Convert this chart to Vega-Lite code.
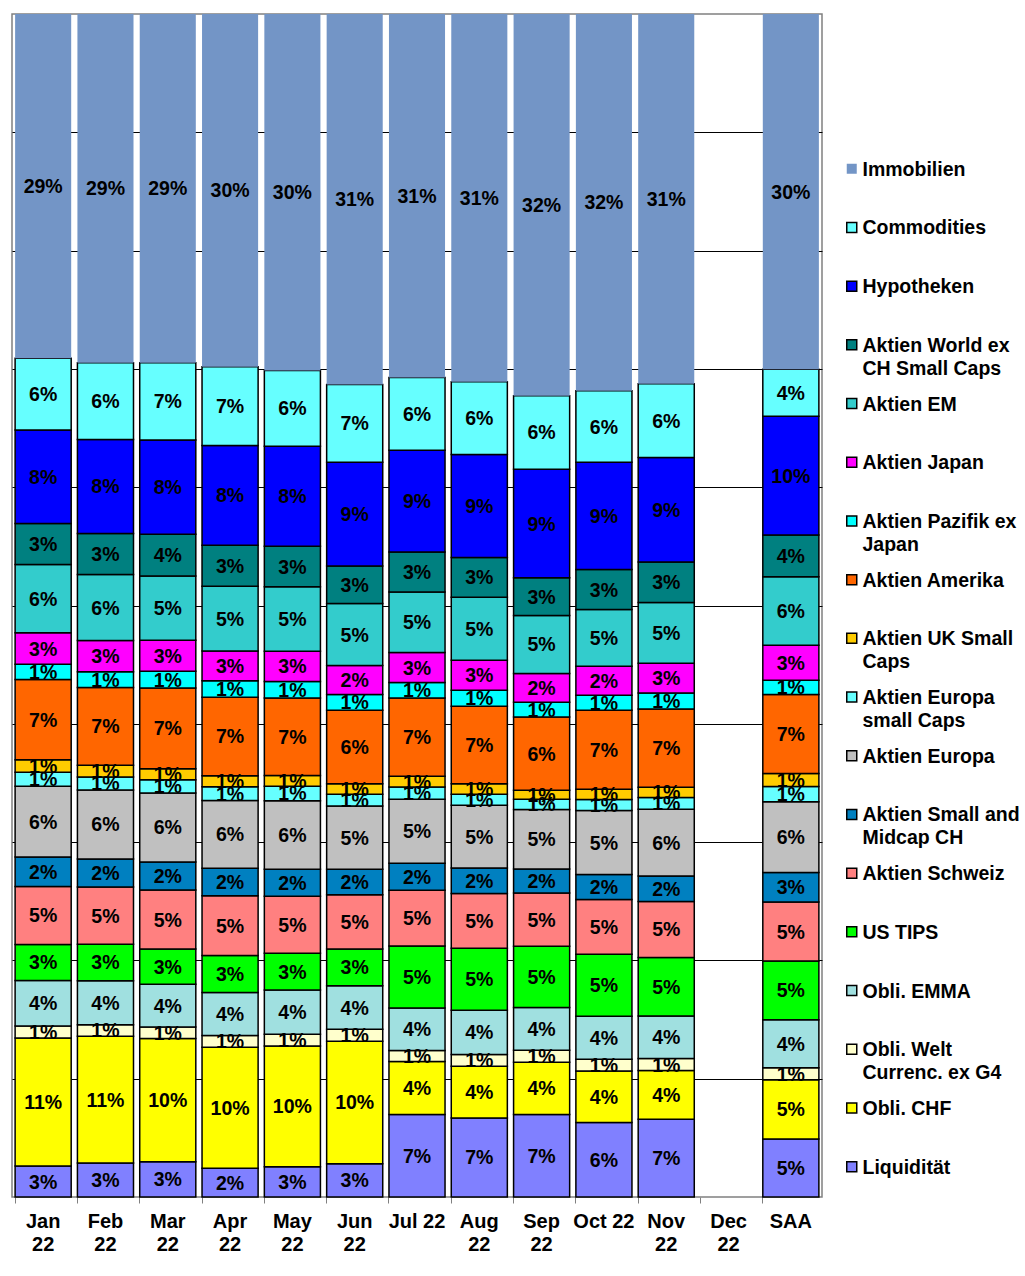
{
  "$schema": "https://vega.github.io/schema/vega-lite/v6.json",
  "width": 810,
  "height": 1183,
  "autosize": {"type": "none"},
  "padding": {"left": 12, "top": 14, "right": 203, "bottom": 79},
  "background": "white",
  "config": {"font": "Liberation Sans", "view": {"stroke": "#808080", "strokeWidth": 1.5}},
  "data": {"values": [
    {"month":"Jan 22","series":"Liquidität","share":0.0262},{"month":"Jan 22","series":"Obli. CHF","share":0.1082},{"month":"Jan 22","series":"Obli. Welt Currenc. ex G4","share":0.0101},{"month":"Jan 22","series":"Obli. EMMA","share":0.0386},{"month":"Jan 22","series":"US TIPS","share":0.0304},{"month":"Jan 22","series":"Aktien Schweiz","share":0.0490},{"month":"Jan 22","series":"Aktien Small and Midcap CH","share":0.0248},{"month":"Jan 22","series":"Aktien Europa","share":0.0600},{"month":"Jan 22","series":"Aktien Europa small Caps","share":0.0118},{"month":"Jan 22","series":"Aktien UK Small Caps","share":0.0105},{"month":"Jan 22","series":"Aktien Amerika","share":0.0679},{"month":"Jan 22","series":"Aktien Pazifik ex Japan","share":0.0129},{"month":"Jan 22","series":"Aktien Japan","share":0.0265},{"month":"Jan 22","series":"Aktien EM","share":0.0578},{"month":"Jan 22","series":"Aktien World ex CH Small Caps","share":0.0347},{"month":"Jan 22","series":"Hypotheken","share":0.0789},{"month":"Jan 22","series":"Commodities","share":0.0606},{"month":"Jan 22","series":"Immobilien","share":0.2911},
    {"month":"Feb 22","series":"Liquidität","share":0.0287},{"month":"Feb 22","series":"Obli. CHF","share":0.1071},{"month":"Feb 22","series":"Obli. Welt Currenc. ex G4","share":0.0099},{"month":"Feb 22","series":"Obli. EMMA","share":0.0372},{"month":"Feb 22","series":"US TIPS","share":0.0307},{"month":"Feb 22","series":"Aktien Schweiz","share":0.0485},{"month":"Feb 22","series":"Aktien Small and Midcap CH","share":0.0237},{"month":"Feb 22","series":"Aktien Europa","share":0.0583},{"month":"Feb 22","series":"Aktien Europa small Caps","share":0.0110},{"month":"Feb 22","series":"Aktien UK Small Caps","share":0.0099},{"month":"Feb 22","series":"Aktien Amerika","share":0.0657},{"month":"Feb 22","series":"Aktien Pazifik ex Japan","share":0.0132},{"month":"Feb 22","series":"Aktien Japan","share":0.0265},{"month":"Feb 22","series":"Aktien EM","share":0.0558},{"month":"Feb 22","series":"Aktien World ex CH Small Caps","share":0.0347},{"month":"Feb 22","series":"Hypotheken","share":0.0795},{"month":"Feb 22","series":"Commodities","share":0.0648},{"month":"Feb 22","series":"Immobilien","share":0.2948},
    {"month":"Mar 22","series":"Liquidität","share":0.0299},{"month":"Mar 22","series":"Obli. CHF","share":0.1040},{"month":"Mar 22","series":"Obli. Welt Currenc. ex G4","share":0.0098},{"month":"Mar 22","series":"Obli. EMMA","share":0.0361},{"month":"Mar 22","series":"US TIPS","share":0.0298},{"month":"Mar 22","series":"Aktien Schweiz","share":0.0499},{"month":"Mar 22","series":"Aktien Small and Midcap CH","share":0.0237},{"month":"Mar 22","series":"Aktien Europa","share":0.0583},{"month":"Mar 22","series":"Aktien Europa small Caps","share":0.0113},{"month":"Mar 22","series":"Aktien UK Small Caps","share":0.0093},{"month":"Mar 22","series":"Aktien Amerika","share":0.0682},{"month":"Mar 22","series":"Aktien Pazifik ex Japan","share":0.0141},{"month":"Mar 22","series":"Aktien Japan","share":0.0262},{"month":"Mar 22","series":"Aktien EM","share":0.0544},{"month":"Mar 22","series":"Aktien World ex CH Small Caps","share":0.0353},{"month":"Mar 22","series":"Hypotheken","share":0.0795},{"month":"Mar 22","series":"Commodities","share":0.0654},{"month":"Mar 22","series":"Immobilien","share":0.2948},
    {"month":"Apr 22","series":"Liquidität","share":0.0243},{"month":"Apr 22","series":"Obli. CHF","share":0.1023},{"month":"Apr 22","series":"Obli. Welt Currenc. ex G4","share":0.0099},{"month":"Apr 22","series":"Obli. EMMA","share":0.0364},{"month":"Apr 22","series":"US TIPS","share":0.0313},{"month":"Apr 22","series":"Aktien Schweiz","share":0.0504},{"month":"Apr 22","series":"Aktien Small and Midcap CH","share":0.0232},{"month":"Apr 22","series":"Aktien Europa","share":0.0572},{"month":"Apr 22","series":"Aktien Europa small Caps","share":0.0118},{"month":"Apr 22","series":"Aktien UK Small Caps","share":0.0093},{"month":"Apr 22","series":"Aktien Amerika","share":0.0663},{"month":"Apr 22","series":"Aktien Pazifik ex Japan","share":0.0140},{"month":"Apr 22","series":"Aktien Japan","share":0.0251},{"month":"Apr 22","series":"Aktien EM","share":0.0546},{"month":"Apr 22","series":"Aktien World ex CH Small Caps","share":0.0347},{"month":"Apr 22","series":"Hypotheken","share":0.0843},{"month":"Apr 22","series":"Commodities","share":0.0665},{"month":"Apr 22","series":"Immobilien","share":0.2982},
    {"month":"May 22","series":"Liquidität","share":0.0255},{"month":"May 22","series":"Obli. CHF","share":0.1021},{"month":"May 22","series":"Obli. Welt Currenc. ex G4","share":0.0099},{"month":"May 22","series":"Obli. EMMA","share":0.0375},{"month":"May 22","series":"US TIPS","share":0.0310},{"month":"May 22","series":"Aktien Schweiz","share":0.0482},{"month":"May 22","series":"Aktien Small and Midcap CH","share":0.0228},{"month":"May 22","series":"Aktien Europa","share":0.0580},{"month":"May 22","series":"Aktien Europa small Caps","share":0.0122},{"month":"May 22","series":"Aktien UK Small Caps","share":0.0090},{"month":"May 22","series":"Aktien Amerika","share":0.0657},{"month":"May 22","series":"Aktien Pazifik ex Japan","share":0.0138},{"month":"May 22","series":"Aktien Japan","share":0.0257},{"month":"May 22","series":"Aktien EM","share":0.0545},{"month":"May 22","series":"Aktien World ex CH Small Caps","share":0.0341},{"month":"May 22","series":"Hypotheken","share":0.0846},{"month":"May 22","series":"Commodities","share":0.0640},{"month":"May 22","series":"Immobilien","share":0.3014},
    {"month":"Jun 22","series":"Liquidität","share":0.0282},{"month":"Jun 22","series":"Obli. CHF","share":0.1034},{"month":"Jun 22","series":"Obli. Welt Currenc. ex G4","share":0.0101},{"month":"Jun 22","series":"Obli. EMMA","share":0.0369},{"month":"Jun 22","series":"US TIPS","share":0.0309},{"month":"Jun 22","series":"Aktien Schweiz","share":0.0460},{"month":"Jun 22","series":"Aktien Small and Midcap CH","share":0.0216},{"month":"Jun 22","series":"Aktien Europa","share":0.0533},{"month":"Jun 22","series":"Aktien Europa small Caps","share":0.0099},{"month":"Jun 22","series":"Aktien UK Small Caps","share":0.0090},{"month":"Jun 22","series":"Aktien Amerika","share":0.0620},{"month":"Jun 22","series":"Aktien Pazifik ex Japan","share":0.0133},{"month":"Jun 22","series":"Aktien Japan","share":0.0245},{"month":"Jun 22","series":"Aktien EM","share":0.0524},{"month":"Jun 22","series":"Aktien World ex CH Small Caps","share":0.0318},{"month":"Jun 22","series":"Hypotheken","share":0.0877},{"month":"Jun 22","series":"Commodities","share":0.0657},{"month":"Jun 22","series":"Immobilien","share":0.3131},
    {"month":"Jul 22","series":"Liquidität","share":0.0697},{"month":"Jul 22","series":"Obli. CHF","share":0.0448},{"month":"Jul 22","series":"Obli. Welt Currenc. ex G4","share":0.0093},{"month":"Jul 22","series":"Obli. EMMA","share":0.0360},{"month":"Jul 22","series":"US TIPS","share":0.0524},{"month":"Jul 22","series":"Aktien Schweiz","share":0.0471},{"month":"Jul 22","series":"Aktien Small and Midcap CH","share":0.0228},{"month":"Jul 22","series":"Aktien Europa","share":0.0541},{"month":"Jul 22","series":"Aktien Europa small Caps","share":0.0104},{"month":"Jul 22","series":"Aktien UK Small Caps","share":0.0090},{"month":"Jul 22","series":"Aktien Amerika","share":0.0662},{"month":"Jul 22","series":"Aktien Pazifik ex Japan","share":0.0130},{"month":"Jul 22","series":"Aktien Japan","share":0.0254},{"month":"Jul 22","series":"Aktien EM","share":0.0512},{"month":"Jul 22","series":"Aktien World ex CH Small Caps","share":0.0338},{"month":"Jul 22","series":"Hypotheken","share":0.0860},{"month":"Jul 22","series":"Commodities","share":0.0615},{"month":"Jul 22","series":"Immobilien","share":0.3072},
    {"month":"Aug 22","series":"Liquidität","share":0.0668},{"month":"Aug 22","series":"Obli. CHF","share":0.0437},{"month":"Aug 22","series":"Obli. Welt Currenc. ex G4","share":0.0099},{"month":"Aug 22","series":"Obli. EMMA","share":0.0375},{"month":"Aug 22","series":"US TIPS","share":0.0524},{"month":"Aug 22","series":"Aktien Schweiz","share":0.0462},{"month":"Aug 22","series":"Aktien Small and Midcap CH","share":0.0216},{"month":"Aug 22","series":"Aktien Europa","share":0.0530},{"month":"Aug 22","series":"Aktien Europa small Caps","share":0.0093},{"month":"Aug 22","series":"Aktien UK Small Caps","share":0.0090},{"month":"Aug 22","series":"Aktien Amerika","share":0.0654},{"month":"Aug 22","series":"Aktien Pazifik ex Japan","share":0.0135},{"month":"Aug 22","series":"Aktien Japan","share":0.0254},{"month":"Aug 22","series":"Aktien EM","share":0.0533},{"month":"Aug 22","series":"Aktien World ex CH Small Caps","share":0.0336},{"month":"Aug 22","series":"Hypotheken","share":0.0871},{"month":"Aug 22","series":"Commodities","share":0.0614},{"month":"Aug 22","series":"Immobilien","share":0.3109},
    {"month":"Sep 22","series":"Liquidität","share":0.0697},{"month":"Sep 22","series":"Obli. CHF","share":0.0442},{"month":"Sep 22","series":"Obli. Welt Currenc. ex G4","share":0.0101},{"month":"Sep 22","series":"Obli. EMMA","share":0.0361},{"month":"Sep 22","series":"US TIPS","share":0.0518},{"month":"Sep 22","series":"Aktien Schweiz","share":0.0451},{"month":"Sep 22","series":"Aktien Small and Midcap CH","share":0.0203},{"month":"Sep 22","series":"Aktien Europa","share":0.0502},{"month":"Sep 22","series":"Aktien Europa small Caps","share":0.0087},{"month":"Sep 22","series":"Aktien UK Small Caps","share":0.0076},{"month":"Sep 22","series":"Aktien Amerika","share":0.0620},{"month":"Sep 22","series":"Aktien Pazifik ex Japan","share":0.0124},{"month":"Sep 22","series":"Aktien Japan","share":0.0243},{"month":"Sep 22","series":"Aktien EM","share":0.0490},{"month":"Sep 22","series":"Aktien World ex CH Small Caps","share":0.0318},{"month":"Sep 22","series":"Hypotheken","share":0.0919},{"month":"Sep 22","series":"Commodities","share":0.0620},{"month":"Sep 22","series":"Immobilien","share":0.3227},
    {"month":"Oct 22","series":"Liquidität","share":0.0629},{"month":"Oct 22","series":"Obli. CHF","share":0.0436},{"month":"Oct 22","series":"Obli. Welt Currenc. ex G4","share":0.0099},{"month":"Oct 22","series":"Obli. EMMA","share":0.0364},{"month":"Oct 22","series":"US TIPS","share":0.0524},{"month":"Oct 22","series":"Aktien Schweiz","share":0.0462},{"month":"Oct 22","series":"Aktien Small and Midcap CH","share":0.0211},{"month":"Oct 22","series":"Aktien Europa","share":0.0541},{"month":"Oct 22","series":"Aktien Europa small Caps","share":0.0093},{"month":"Oct 22","series":"Aktien UK Small Caps","share":0.0087},{"month":"Oct 22","series":"Aktien Amerika","share":0.0668},{"month":"Oct 22","series":"Aktien Pazifik ex Japan","share":0.0127},{"month":"Oct 22","series":"Aktien Japan","share":0.0245},{"month":"Oct 22","series":"Aktien EM","share":0.0479},{"month":"Oct 22","series":"Aktien World ex CH Small Caps","share":0.0338},{"month":"Oct 22","series":"Hypotheken","share":0.0907},{"month":"Oct 22","series":"Commodities","share":0.0603},{"month":"Oct 22","series":"Immobilien","share":0.3185},
    {"month":"Nov 22","series":"Liquidität","share":0.0656},{"month":"Nov 22","series":"Obli. CHF","share":0.0412},{"month":"Nov 22","series":"Obli. Welt Currenc. ex G4","share":0.0101},{"month":"Nov 22","series":"Obli. EMMA","share":0.0359},{"month":"Nov 22","series":"US TIPS","share":0.0495},{"month":"Nov 22","series":"Aktien Schweiz","share":0.0473},{"month":"Nov 22","series":"Aktien Small and Midcap CH","share":0.0215},{"month":"Nov 22","series":"Aktien Europa","share":0.0563},{"month":"Nov 22","series":"Aktien Europa small Caps","share":0.0099},{"month":"Nov 22","series":"Aktien UK Small Caps","share":0.0087},{"month":"Nov 22","series":"Aktien Amerika","share":0.0660},{"month":"Nov 22","series":"Aktien Pazifik ex Japan","share":0.0135},{"month":"Nov 22","series":"Aktien Japan","share":0.0252},{"month":"Nov 22","series":"Aktien EM","share":0.0512},{"month":"Nov 22","series":"Aktien World ex CH Small Caps","share":0.0342},{"month":"Nov 22","series":"Hypotheken","share":0.0884},{"month":"Nov 22","series":"Commodities","share":0.0621},{"month":"Nov 22","series":"Immobilien","share":0.3123},
    {"month":"SAA","series":"Liquidität","share":0.0490},{"month":"SAA","series":"Obli. CHF","share":0.0502},{"month":"SAA","series":"Obli. Welt Currenc. ex G4","share":0.0101},{"month":"SAA","series":"Obli. EMMA","share":0.0406},{"month":"SAA","series":"US TIPS","share":0.0495},{"month":"SAA","series":"Aktien Schweiz","share":0.0499},{"month":"SAA","series":"Aktien Small and Midcap CH","share":0.0251},{"month":"SAA","series":"Aktien Europa","share":0.0598},{"month":"SAA","series":"Aktien Europa small Caps","share":0.0127},{"month":"SAA","series":"Aktien UK Small Caps","share":0.0110},{"month":"SAA","series":"Aktien Amerika","share":0.0668},{"month":"SAA","series":"Aktien Pazifik ex Japan","share":0.0121},{"month":"SAA","series":"Aktien Japan","share":0.0296},{"month":"SAA","series":"Aktien EM","share":0.0578},{"month":"SAA","series":"Aktien World ex CH Small Caps","share":0.0353},{"month":"SAA","series":"Hypotheken","share":0.1004},{"month":"SAA","series":"Commodities","share":0.0397},{"month":"SAA","series":"Immobilien","share":0.3004}
  ]},
  "transform": [
    {"lookup": "series", "from": {"data": {"values": [
      {"series":"Liquidität","layer":1},{"series":"Obli. CHF","layer":2},{"series":"Obli. Welt Currenc. ex G4","layer":3},{"series":"Obli. EMMA","layer":4},{"series":"US TIPS","layer":5},{"series":"Aktien Schweiz","layer":6},{"series":"Aktien Small and Midcap CH","layer":7},{"series":"Aktien Europa","layer":8},{"series":"Aktien Europa small Caps","layer":9},{"series":"Aktien UK Small Caps","layer":10},{"series":"Aktien Amerika","layer":11},{"series":"Aktien Pazifik ex Japan","layer":12},{"series":"Aktien Japan","layer":13},{"series":"Aktien EM","layer":14},{"series":"Aktien World ex CH Small Caps","layer":15},{"series":"Hypotheken","layer":16},{"series":"Commodities","layer":17},{"series":"Immobilien","layer":18}
    ]}, "key": "series", "fields": ["layer"]}}
  ],
  "encoding": {
    "x": {
      "field": "month", "type": "nominal", "sort": null, "title": null,
      "scale": {"domain": ["Jan 22","Feb 22","Mar 22","Apr 22","May 22","Jun 22","Jul 22","Aug 22","Sep 22","Oct 22","Nov 22","Dec 22","SAA"], "paddingInner": 0.1, "paddingOuter": 0.05},
      "axis": {
        "labelAngle": 0, "labelFontSize": 20, "labelFontWeight": "bold", "labelColor": "black",
        "labelPadding": 8, "labelLineHeight": 23, "labelBaseline": "top",
        "labelExpr": "datum.label == 'Jul 22' || datum.label == 'Oct 22' || datum.label == 'SAA' ? datum.label : split(datum.label, ' ')",
        "tickSize": 6, "tickColor": "#808080", "tickWidth": 1, "bandPosition": 0,
        "domain": false, "grid": false
      }
    },
    "y": {
      "field": "share", "type": "quantitative", "stack": "normalize", "title": null,
      "scale": {"domain": [0, 1], "nice": false},
      "axis": {"labels": false, "ticks": false, "domain": false, "grid": true, "gridColor": "black", "gridWidth": 1, "values": [0.1,0.2,0.3,0.4,0.5,0.6,0.7,0.8,0.9]}
    },
    "order": {"field": "layer", "type": "quantitative", "sort": "ascending"},
    "color": {
      "field": "series", "type": "nominal",
      "scale": {
        "domain": ["Immobilien","Commodities","Hypotheken","Aktien World ex CH Small Caps","Aktien EM","Aktien Japan","Aktien Pazifik ex Japan","Aktien Amerika","Aktien UK Small Caps","Aktien Europa small Caps","Aktien Europa","Aktien Small and Midcap CH","Aktien Schweiz","US TIPS","Obli. EMMA","Obli. Welt Currenc. ex G4","Obli. CHF","Liquidität"],
        "range": ["#7395C6","#66FFFF","#0000FF","#008080","#33CCCC","#FF00FF","#00FFFF","#FF6600","#FFCC00","#66FFFF","#C0C0C0","#0080C0","#FF8080","#00FF00","#A0E0E0","#FFFFCC","#FFFF00","#8080FF"]
      },
      "legend": {
        "orient": "none", "legendX": 830, "legendY": 145, "title": null, "padding": 0,
        "symbolType": "square", "symbolSize": 100, "symbolStrokeWidth": 1.5, "symbolStrokeColor": "black", "symbolOpacity": 1,
        "labelFontSize": 19.5, "labelFontWeight": "bold", "labelColor": "black", "labelOffset": 1, "labelLimit": 250,
        "labelBaseline": "alphabetic", "rowPadding": 14.7, "gridAlign": "all",
        "labelExpr": "datum.label == 'Aktien World ex CH Small Caps' ? ['Aktien World ex', 'CH Small Caps'] : datum.label == 'Aktien Pazifik ex Japan' ? ['Aktien Pazifik ex', 'Japan'] : datum.label == 'Aktien UK Small Caps' ? ['Aktien UK Small', 'Caps'] : datum.label == 'Aktien Europa small Caps' ? ['Aktien Europa', 'small Caps'] : datum.label == 'Aktien Small and Midcap CH' ? ['Aktien Small and', 'Midcap CH'] : datum.label == 'Obli. Welt Currenc. ex G4' ? ['Obli. Welt', 'Currenc. ex G4'] : datum.label",
        "encode": {
          "labels": {"update": {"dy": {"value": 7}, "lineHeight": {"value": 23}}},
          "symbols": {"update": {"stroke": {"signal": "datum.value === 'Immobilien' ? 'transparent' : 'black'"}}}
        }
      }
    }
  },
  "layer": [
    {
      "mark": {"type": "bar", "strokeWidth": 1.5},
      "encoding": {
        "stroke": {"condition": {"test": "datum.series === 'Immobilien'", "value": "transparent"}, "value": "black"}
      }
    },
    {
      "mark": {"type": "text", "fontSize": 19.5, "fontWeight": "bold", "baseline": "middle", "dy": 1},
      "encoding": {
        "y": {"field": "share", "type": "quantitative", "stack": "normalize", "bandPosition": 0.5},
        "text": {"field": "share", "type": "quantitative", "format": ".0%"},
        "fill": {"value": "black"}
      }
    }
  ]
}
